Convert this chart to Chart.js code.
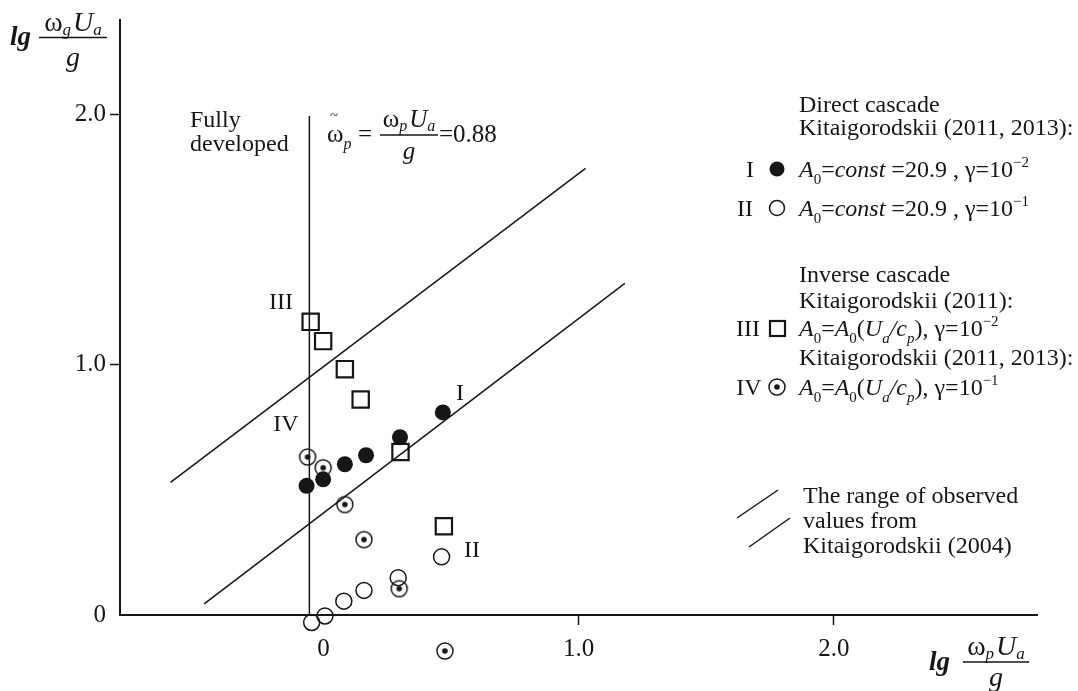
<!DOCTYPE html>
<html>
<head>
<meta charset="utf-8">
<script src="https://cdn.jsdelivr.net/npm/chart.js@4.4.0/dist/chart.umd.min.js"></script>
<style>
  html, body { margin: 0; padding: 0; background: #fff; }
  #wrap { width: 1078px; height: 691px; position: relative; }
</style>
</head>
<body>
<div id="wrap"><canvas id="chart"></canvas></div>
<script>
// axis ticks
const xTicks = [0, 1.0, 2.0];
const yTicks = [0, 1.0, 2.0];

// I - direct cascade, A0 = const, gamma = 1e-2 (filled circles)
const seriesIx = [-0.066, -0.001, 0.084, 0.167, 0.300, 0.468];
const seriesIy = [0.516, 0.542, 0.602, 0.638, 0.710, 0.809];
// II - direct cascade, A0 = const, gamma = 1e-1 (open circles)
const seriesIIx = [-0.046, 0.006, 0.080, 0.159, 0.293, 0.463];
const seriesIIy = [-0.030, -0.004, 0.055, 0.098, 0.149, 0.232];
// III - inverse cascade, gamma = 1e-2 (squares)
const seriesIIIx = [-0.050, -0.001, 0.084, 0.146, 0.302, 0.472];
const seriesIIIy = [1.171, 1.094, 0.982, 0.861, 0.651, 0.354];
// IV - gamma = 1e-1 (dotted circles)
const seriesIVx = [-0.062, -0.001, 0.084, 0.159, 0.297, 0.476];
const seriesIVy = [0.631, 0.588, 0.441, 0.301, 0.105, -0.144];

// range of observed values, Kitaigorodskii (2004)
const upperX = [-0.599, 1.027];
const upperY = [0.530, 1.784];
const lowerX = [-0.467, 1.181];
const lowerY = [0.044, 1.325];
// fully developed: lg 0.88
const fullyX = [-0.055, -0.055];
const fullyY = [1.993, 0];

const FONT = '"Liberation Serif", "Times New Roman", serif';
const INK = '#161616';

function pts(xs, ys) {
    return xs.map((x, i) => ({ x: x, y: ys[i] }));
}

// circle with a dot in the middle, for series IV
function dotCircle(r, dot, lw) {
    const s = Math.ceil(2 * r + lw + 2);
    const c = document.createElement('canvas');
    c.width = s;
    c.height = s;
    const g = c.getContext('2d');
    g.strokeStyle = INK;
    g.lineWidth = lw;
    g.beginPath();
    g.arc(s / 2, s / 2, r, 0, Math.PI * 2);
    g.stroke();
    g.fillStyle = INK;
    g.beginPath();
    g.arc(s / 2, s / 2, dot, 0, Math.PI * 2);
    g.fill();
    return c;
}
const dotMarker = dotCircle(8, 2.8, 1.5);

// draws a run of text pieces (italic / sub / sup) and returns the end x
function rich(ctx, x, y, parts, size, subDrop) {
    let cx = x;
    const drop = subDrop === undefined ? 0.28 : subDrop;
    parts.forEach(p => {
        const small = p.sub || p.sup;
        const s = small ? Math.round(size * 0.62) : size;
        ctx.font = (p.it ? 'italic ' : '') + s + 'px ' + FONT;
        const dy = p.sub ? size * drop : (p.sup ? -size * 0.42 : 0);
        ctx.fillText(p.t, cx, y + dy);
        cx += ctx.measureText(p.t).width + (p.gap || 0);
    });
    return cx;
}

function textWidth(ctx, parts, size) {
    let w = 0;
    parts.forEach(p => {
        const s = (p.sub || p.sup) ? Math.round(size * 0.62) : size;
        ctx.font = (p.it ? 'italic ' : '') + s + 'px ' + FONT;
        w += ctx.measureText(p.t).width + (p.gap || 0);
    });
    return w;
}

// numerator over denominator, bar centred on cx
function fraction(ctx, cx, barY, num, den, size, numDy, denDy, barW) {
    const wn = textWidth(ctx, num, size);
    const wd = textWidth(ctx, den, size);
    const w = barW || Math.max(wn, wd) + 2;
    rich(ctx, cx - wn / 2, barY + numDy, num, size, 0.16);
    rich(ctx, cx - wd / 2, barY + denDy, den, size);
    ctx.beginPath();
    ctx.lineWidth = 1.3;
    ctx.moveTo(cx - w / 2, barY);
    ctx.lineTo(cx + w / 2, barY);
    ctx.stroke();
}

const omegaUa = (idx) => [
    { t: 'ω' }, { t: idx, it: true, sub: true, gap: 2 }, { t: 'U', it: true }, { t: 'a', it: true, sub: true }
];

const formulaConst = (exp) => [
    { t: 'A', it: true }, { t: '0', sub: true }, { t: '=' },
    { t: 'const', it: true }, { t: ' =20.9 , γ=10' }, { t: exp, sup: true }
];
const formulaVar = (exp) => [
    { t: 'A', it: true }, { t: '0', sub: true }, { t: '=' },
    { t: 'A', it: true }, { t: '0', sub: true }, { t: '(' },
    { t: 'U', it: true }, { t: 'a', it: true, sub: true }, { t: '/', it: true },
    { t: 'c', it: true }, { t: 'p', it: true, sub: true }, { t: '), γ=10' }, { t: exp, sup: true }
];

// y axis line, stopping at y = 0 like the original figure
const yAxisLine = {
    id: 'yAxisLine',
    beforeDatasetsDraw(chart) {
        const ctx = chart.ctx;
        const xs = chart.scales.x;
        const ys = chart.scales.y;
        const px = xs.getPixelForValue(xs.min);
        ctx.save();
        ctx.strokeStyle = INK;
        ctx.lineWidth = 2;
        ctx.beginPath();
        ctx.moveTo(px, chart.chartArea.top);
        ctx.lineTo(px, ys.getPixelForValue(0));
        ctx.stroke();
        ctx.restore();
    }
};

const textPlugin = {
    id: 'texts',
    afterDraw(chart) {
        const ctx = chart.ctx;
        ctx.save();
        ctx.fillStyle = INK;
        ctx.strokeStyle = INK;
        ctx.textBaseline = 'alphabetic';
        ctx.textAlign = 'left';

        // y axis title
        ctx.font = 'italic bold 27px ' + FONT;
        ctx.fillText('lg', 10, 45);
        fraction(ctx, 73, 37.5, omegaUa('g'), [{ t: 'g', it: true }], 28, -7, 28, 68);

        // x axis title
        ctx.font = 'italic bold 27px ' + FONT;
        ctx.fillText('lg', 929, 670);
        fraction(ctx, 996, 662, omegaUa('p'), [{ t: 'g', it: true }], 28, -7, 24, 66);

        // fully developed
        ctx.font = '24px ' + FONT;
        ctx.fillText('Fully', 190, 127);
        ctx.fillText('developed', 190, 151);

        // omega tilde formula
        rich(ctx, 327, 142, [{ t: 'ω' }, { t: 'p', it: true, sub: true }], 25);
        rich(ctx, 358, 142, [{ t: '=' }], 25);
        ctx.font = '15px ' + FONT;
        ctx.fillText('~', 330, 120);
        fraction(ctx, 409, 135, omegaUa('p'), [{ t: 'g', it: true }], 25, -8, 24, 58);
        rich(ctx, 439, 142, [{ t: '=0.88' }], 25);

        // series labels next to the points
        ctx.font = '24px ' + FONT;
        ctx.textAlign = 'center';
        ctx.fillText('III', 281, 309);
        ctx.fillText('IV', 286, 431);
        ctx.fillText('I', 460, 400);
        ctx.fillText('II', 472, 557);

        // legend
        ctx.textAlign = 'left';
        ctx.font = '24px ' + FONT;
        const lx = 799;
        ctx.fillText('Direct cascade', lx, 112);
        ctx.fillText('Kitaigorodskii (2011, 2013):', lx, 135);
        ctx.fillText('Inverse cascade', lx, 282);
        ctx.fillText('Kitaigorodskii (2011):', lx, 308);
        ctx.fillText('Kitaigorodskii (2011, 2013):', lx, 365);
        ctx.fillText('The range of observed', 803, 503);
        ctx.fillText('values from', 803, 528);
        ctx.fillText('Kitaigorodskii (2004)', 803, 553);

        ctx.textAlign = 'center';
        ctx.fillText('I', 750, 177);
        ctx.fillText('II', 745, 216);
        ctx.fillText('III', 748, 336);
        ctx.fillText('IV', 749, 395);
        ctx.textAlign = 'left';

        rich(ctx, lx, 177, formulaConst('−2'), 24);
        rich(ctx, lx, 216, formulaConst('−1'), 24);
        rich(ctx, lx, 336, formulaVar('−2'), 24);
        rich(ctx, lx, 395, formulaVar('−1'), 24);

        // legend symbols
        ctx.beginPath();
        ctx.arc(777, 169, 7.5, 0, Math.PI * 2);
        ctx.fill();
        ctx.lineWidth = 1.5;
        ctx.beginPath();
        ctx.arc(777, 208, 7.5, 0, Math.PI * 2);
        ctx.stroke();
        ctx.lineWidth = 2.2;
        ctx.strokeRect(770, 321, 15, 15);
        ctx.drawImage(dotMarker, 777 - dotMarker.width / 2, 387 - dotMarker.height / 2);

        ctx.lineWidth = 1.5;
        ctx.beginPath();
        ctx.moveTo(737, 518);
        ctx.lineTo(778, 490);
        ctx.moveTo(749, 547);
        ctx.lineTo(790, 518);
        ctx.stroke();

        ctx.restore();
    }
};

const lineStyle = {
    showLine: true,
    borderColor: INK,
    borderWidth: 1.5,
    pointRadius: 0,
    fill: false,
    clip: false
};

new Chart(document.getElementById('chart'), {
    type: 'scatter',
    data: {
        datasets: [
            { label: 'I', data: pts(seriesIx, seriesIy), pointStyle: 'circle', pointRadius: 8,
              backgroundColor: INK, borderColor: INK, borderWidth: 0, clip: false },
            { label: 'II', data: pts(seriesIIx, seriesIIy), pointStyle: 'circle', pointRadius: 8,
              backgroundColor: 'rgba(0,0,0,0)', borderColor: INK, borderWidth: 1.5, clip: false },
            { label: 'III', data: pts(seriesIIIx, seriesIIIy), pointStyle: 'rect', pointRadius: 11.5,
              backgroundColor: 'rgba(0,0,0,0)', borderColor: INK, borderWidth: 2.2, clip: false },
            { label: 'IV', data: pts(seriesIVx, seriesIVy), pointStyle: dotMarker, clip: false },
            Object.assign({ label: 'upper', data: pts(upperX, upperY) }, lineStyle),
            Object.assign({ label: 'lower', data: pts(lowerX, lowerY) }, lineStyle),
            Object.assign({ label: 'fully developed', data: pts(fullyX, fullyY) }, lineStyle)
        ]
    },
    options: {
        responsive: true,
        maintainAspectRatio: false,
        animation: false,
        events: [],
        layout: { padding: { top: 8, right: 41, bottom: 23, left: 0 } },
        plugins: {
            legend: { display: false },
            tooltip: { enabled: false }
        },
        scales: {
            x: {
                type: 'linear',
                position: { y: 0 },
                min: -0.797,
                max: 2.796,
                afterBuildTicks: (scale) => { scale.ticks = xTicks.map(v => ({ value: v })); },
                border: { display: true, color: INK, width: 2 },
                grid: {
                    display: true,
                    drawOnChartArea: false,
                    drawTicks: true,
                    tickLength: 9,
                    tickWidth: 1.5,
                    tickColor: (c) => c.tick && c.tick.value === 0 ? 'rgba(0,0,0,0)' : INK
                },
                ticks: {
                    color: INK,
                    padding: 10,
                    maxRotation: 0,
                    font: { family: FONT, size: 25 },
                    callback: (v) => v === 0 ? '0' : v.toFixed(1)
                }
            },
            y: {
                type: 'linear',
                position: 'left',
                min: -0.212,
                max: 2.381,
                afterBuildTicks: (scale) => { scale.ticks = yTicks.map(v => ({ value: v })); },
                afterFit: (scale) => { scale.width = 120; },
                border: { display: false },
                grid: {
                    display: true,
                    drawOnChartArea: false,
                    drawTicks: true,
                    tickLength: 10,
                    tickWidth: 1.5,
                    tickColor: (c) => c.tick && c.tick.value === 0 ? 'rgba(0,0,0,0)' : INK
                },
                ticks: {
                    color: INK,
                    padding: 4,
                    font: { family: FONT, size: 25 },
                    callback: (v) => v === 0 ? '0' : v.toFixed(1)
                }
            }
        }
    },
    plugins: [yAxisLine, textPlugin]
});
</script>
</body>
</html>
